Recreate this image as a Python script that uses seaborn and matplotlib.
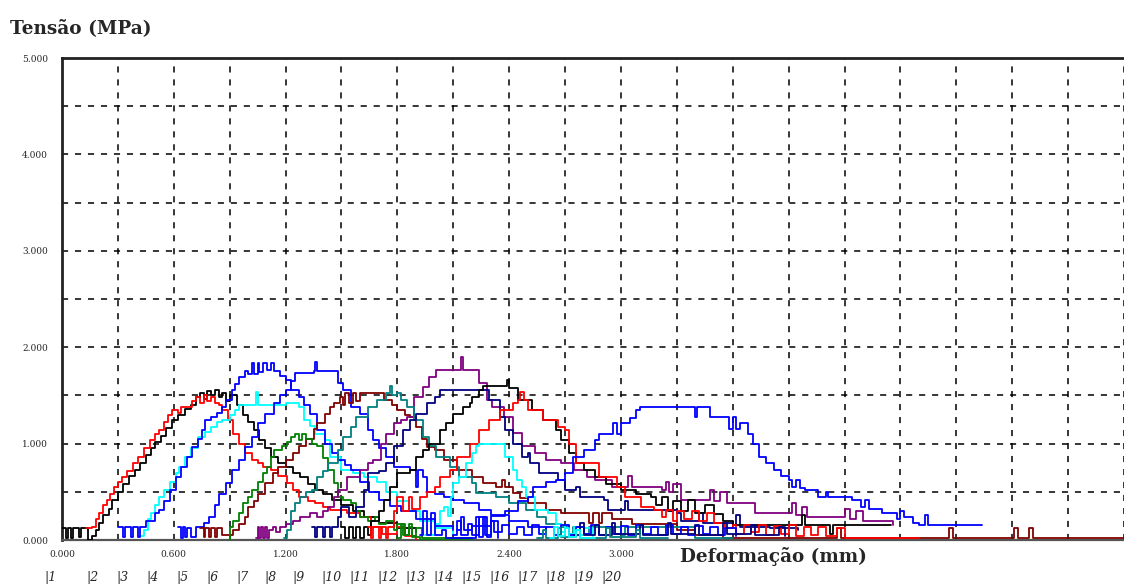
import matplotlib
matplotlib.use("Agg")
import matplotlib.pyplot as plt
import numpy as np
import pandas as pd
import seaborn as sns

# ---- data: (deformation mm, stress MPa) vertices of each specimen curve ----
s01 = [(0.00,0.12),(0.02,0.02),(0.03,0.12),(0.05,0.02),(0.06,0.12),(0.09,0.03),(0.10,0.12),(0.14,0.00),
       (0.16,0.04),(0.18,0.10),(0.20,0.18),(0.22,0.26),(0.25,0.32),(0.27,0.42),(0.30,0.50),(0.33,0.58),
       (0.36,0.66),(0.39,0.73),(0.42,0.80),(0.45,0.88),(0.48,0.95),(0.50,1.02),(0.53,1.08),(0.56,1.16),
       (0.59,1.24),(0.62,1.30),(0.66,1.36),(0.69,1.40),(0.72,1.48),(0.74,1.52),(0.76,1.46),(0.78,1.55),
       (0.80,1.50),(0.82,1.56),(0.84,1.48),(0.86,1.52),(0.88,1.44),(0.90,1.50),(0.94,1.40),(0.97,1.30),
       (1.00,1.22),(1.03,1.14),(1.06,1.04),(1.09,0.95),(1.12,0.86),(1.16,0.80),(1.20,0.76),(1.24,0.70),
       (1.28,0.65),(1.32,0.58),(1.36,0.52),(1.40,0.48),(1.45,0.42),(1.50,0.36),(1.56,0.30),(1.62,0.24),
       (1.70,0.18),(1.80,0.12),(1.90,0.08)]
s02 = [(0.13,0.12),(0.16,0.14),(0.18,0.22),(0.20,0.28),(0.22,0.36),(0.24,0.41),(0.26,0.48),(0.28,0.55),
       (0.30,0.60),(0.32,0.65),(0.35,0.72),(0.38,0.80),(0.41,0.86),(0.44,0.95),(0.47,1.04),(0.50,1.10),
       (0.52,1.14),(0.55,1.22),(0.57,1.30),(0.59,1.35),(0.62,1.32),(0.64,1.38),(0.68,1.38),(0.70,1.44),
       (0.72,1.48),(0.74,1.42),(0.76,1.50),(0.78,1.44),(0.80,1.48),(0.82,1.42),(0.84,1.40),(0.86,1.35),
       (0.89,1.25),(0.92,1.10),(0.95,1.00),(0.98,0.90),(1.02,0.83),(1.05,0.80),(1.08,0.76),(1.12,0.73),
       (1.16,0.66),(1.21,0.59),(1.24,0.52),(1.27,0.45),(1.32,0.40),(1.36,0.38),(1.40,0.34),(1.44,0.31),
       (1.53,0.28),(1.60,0.24),(1.66,0.14),(1.72,0.06),(1.80,0.14),(1.84,0.04),(1.90,0.00)]
s03 = [(0.42,0.04),(0.44,0.10),(0.46,0.22),(0.48,0.28),(0.50,0.36),(0.52,0.45),(0.55,0.52),(0.58,0.60),
       (0.61,0.69),(0.63,0.76),(0.66,0.86),(0.69,0.95),(0.73,1.07),(0.77,1.12),(0.80,1.17),(0.83,1.22),
       (0.86,1.25),(0.90,1.30),(0.93,1.35),(0.95,1.40),(1.02,1.40),(1.04,1.54),(1.05,1.40),(1.12,1.40),
       (1.20,1.42),(1.27,1.38),(1.30,1.25),(1.33,1.18),(1.36,1.10),(1.41,1.04),(1.44,0.86),(1.50,0.73),
       (1.56,0.70),(1.62,0.65),(1.69,0.60),(1.74,0.50),(1.80,0.40),(1.86,0.30),(1.92,0.20),(2.00,0.12),
       (2.10,0.06)]
s04 = [(0.30,0.14),(0.33,0.03),(0.34,0.14),(0.37,0.03),(0.38,0.14),(0.41,0.03),(0.42,0.14),(0.45,0.20),
       (0.50,0.28),(0.52,0.31),(0.55,0.40),(0.58,0.52),(0.61,0.65),(0.64,0.76),(0.67,0.86),(0.70,0.96),
       (0.73,1.05),(0.75,1.14),(0.77,1.25),(0.80,1.28),(0.83,1.32),(0.86,1.38),(0.88,1.45),(0.91,1.56),
       (0.93,1.62),(0.95,1.69),(0.98,1.75),(1.00,1.72),(1.02,1.84),(1.03,1.72),(1.05,1.84),(1.06,1.74),
       (1.08,1.84),(1.10,1.76),(1.12,1.84),(1.14,1.75),(1.17,1.70),(1.20,1.66),(1.23,1.56),(1.27,1.48),
       (1.30,1.40),(1.33,1.31),(1.37,1.14),(1.41,1.00),(1.45,0.90),(1.48,0.83),(1.52,0.78),(1.55,0.73),
       (1.60,0.60),(1.65,0.50),(1.70,0.42),(1.76,0.35),(1.82,0.30),(1.90,0.22),(2.00,0.15),(2.10,0.10)]
s05 = [(0.62,0.14),(0.64,0.02),(0.65,0.14),(0.66,0.03),(0.67,0.12),(0.69,0.03),(0.72,0.14),(0.76,0.18),
       (0.79,0.24),(0.82,0.36),(0.84,0.48),(0.88,0.59),(0.91,0.73),(0.95,0.83),(0.98,0.96),(1.02,1.07),
       (1.05,1.21),(1.09,1.31),(1.14,1.42),(1.17,1.50),(1.20,1.56),(1.23,1.65),(1.25,1.73),(1.35,1.75),
       (1.36,1.85),(1.37,1.75),(1.46,1.75),(1.48,1.63),(1.51,1.56),(1.55,1.38),(1.60,1.31),(1.64,1.14),
       (1.67,1.04),(1.70,0.95),(1.74,0.86),(1.78,0.76),(1.87,0.73),(1.90,0.55),(1.91,0.73),(1.94,0.65),
       (1.96,0.50),(2.00,0.48),(2.05,0.45),(2.10,0.42),(2.16,0.38),(2.24,0.31),(2.30,0.26),(2.40,0.20),
       (2.50,0.14),(2.60,0.10)]
s06 = [(0.74,0.12),(0.76,0.03),(0.77,0.12),(0.79,0.03),(0.80,0.12),(0.82,0.03),(0.83,0.12),(0.86,0.05),
       (0.92,0.10),(0.95,0.17),(0.98,0.24),(1.00,0.34),(1.03,0.40),(1.05,0.48),(1.09,0.59),(1.13,0.69),
       (1.16,0.76),(1.20,0.83),(1.24,0.90),(1.27,0.97),(1.31,1.05),(1.35,1.15),(1.37,1.21),(1.41,1.31),
       (1.44,1.38),(1.46,1.42),(1.49,1.48),(1.51,1.40),(1.52,1.52),(1.54,1.42),(1.56,1.52),(1.58,1.44),
       (1.60,1.52),(1.70,1.52),(1.73,1.45),(1.77,1.40),(1.80,1.35),(1.84,1.30),(1.87,1.28),(1.90,1.17),
       (1.93,1.05),(1.96,0.96),(2.00,0.93),(2.05,0.83),(2.12,0.73),(2.20,0.65),(2.26,0.59),(2.33,0.55),
       (2.36,0.62),(2.38,0.55),(2.42,0.49),(2.46,0.44),(2.50,0.38),(2.60,0.31),(2.68,0.28),(2.80,0.28),
       (2.83,0.18),(2.85,0.28),(2.88,0.18),(2.90,0.28),(2.95,0.22),(3.06,0.17),(3.25,0.17),(3.30,0.10),
       (3.40,0.05),(3.55,0.02),(4.15,0.02),(4.16,0.12),(4.18,0.02),(4.75,0.02),(4.76,0.12),(4.78,0.02),
       (5.10,0.02),(5.11,0.12),(5.13,0.02),(5.18,0.02),(5.19,0.12),(5.21,0.02),(5.70,0.02)]
s07 = [(0.89,0.00),(0.90,0.14),(0.92,0.20),(0.95,0.28),(0.97,0.38),(1.00,0.45),(1.02,0.52),(1.05,0.60),
       (1.08,0.70),(1.10,0.76),(1.12,0.86),(1.14,0.93),(1.18,0.97),(1.21,1.02),(1.23,1.07),(1.25,1.10),
       (1.27,1.04),(1.29,1.10),(1.31,1.05),(1.34,1.00),(1.37,0.97),(1.40,0.85),(1.43,0.73),(1.46,0.59),
       (1.48,0.45),(1.51,0.42),(1.55,0.38),(1.58,0.30),(1.60,0.24),(1.64,0.20),(1.68,0.24),(1.70,0.17),
       (1.74,0.20),(1.78,0.10),(1.80,0.17),(1.83,0.05),(1.86,0.14),(1.88,0.03),(1.92,0.00),(2.20,0.00)]
s08 = [(1.04,0.02),(1.05,0.14),(1.06,0.02),(1.07,0.14),(1.08,0.02),(1.09,0.14),(1.10,0.02),(1.11,0.10),
       (1.13,0.14),(1.15,0.08),(1.17,0.14),(1.20,0.17),(1.24,0.20),(1.28,0.24),(1.33,0.28),(1.37,0.24),
       (1.40,0.30),(1.43,0.34),(1.46,0.45),(1.48,0.52),(1.53,0.65),(1.60,0.73),(1.64,0.80),(1.67,0.83),
       (1.71,1.00),(1.74,1.10),(1.78,1.21),(1.82,1.25),(1.85,1.28),(1.89,1.48),(1.94,1.59),(1.97,1.69),
       (2.01,1.76),(2.13,1.76),(2.14,1.90),(2.15,1.76),(2.22,1.76),(2.24,1.63),(2.28,1.45),(2.31,1.38),
       (2.37,1.28),(2.42,1.11),(2.47,0.97),(2.54,0.90),(2.60,0.83),(2.68,0.80),(2.75,0.73),(2.82,0.65),
       (2.86,0.62),(2.91,0.62),(2.95,0.55),(3.03,0.55),(3.04,0.66),(3.06,0.55),(3.22,0.52),(3.24,0.60),
       (3.26,0.50),(3.28,0.58),(3.32,0.41),(3.45,0.41),(3.48,0.52),(3.50,0.40),(3.53,0.50),(3.57,0.38),
       (3.70,0.38),(3.72,0.28),(3.89,0.28),(3.92,0.38),(3.94,0.26),(3.97,0.34),(4.00,0.24),(4.18,0.24),
       (4.20,0.32),(4.23,0.22),(4.26,0.30),(4.30,0.20),(4.46,0.16)]
s09 = [(1.19,0.02),(1.21,0.10),(1.23,0.30),(1.25,0.38),(1.28,0.45),(1.31,0.50),(1.34,0.52),(1.37,0.65),
       (1.40,0.72),(1.43,0.80),(1.48,0.93),(1.51,1.07),(1.55,1.17),(1.58,1.28),(1.64,1.38),(1.69,1.45),
       (1.74,1.52),(1.76,1.60),(1.77,1.50),(1.80,1.52),(1.82,1.45),(1.85,1.38),(1.89,1.24),(1.94,1.07),
       (1.97,0.97),(2.01,0.86),(2.08,0.76),(2.13,0.65),(2.20,0.59),(2.22,0.49),(2.33,0.45),(2.40,0.38),
       (2.49,0.31),(2.55,0.24),(2.60,0.17),(2.68,0.14),(2.72,0.06),(2.74,0.14),(2.80,0.06),(2.83,0.14),
       (2.90,0.14),(3.00,0.05),(3.02,0.14),(3.35,0.14),(3.40,0.02),(3.60,0.02)]
s10 = [(1.34,0.14),(1.36,0.03),(1.37,0.14),(1.40,0.03),(1.41,0.14),(1.44,0.03),(1.45,0.14),(1.48,0.24),
       (1.50,0.34),(1.54,0.24),(1.58,0.34),(1.62,0.52),(1.64,0.69),(1.70,0.72),(1.74,0.80),(1.78,0.97),
       (1.83,1.14),(1.87,1.24),(1.90,1.31),(1.96,1.42),(2.00,1.48),(2.03,1.56),(2.24,1.56),(2.29,1.45),
       (2.35,1.28),(2.38,1.14),(2.42,1.00),(2.47,0.86),(2.50,0.90),(2.51,0.80),(2.53,0.80),(2.56,0.69),
       (2.66,0.62),(2.70,0.52),(2.76,0.55),(2.78,0.45),(2.88,0.45),(2.91,0.41),(2.93,0.31),(3.00,0.31),
       (3.02,0.40),(3.04,0.31),(3.30,0.28),(3.32,0.20),(3.40,0.20),(3.42,0.28),(3.44,0.18),(3.60,0.16),
       (3.62,0.26),(3.64,0.14),(3.80,0.12),(3.95,0.10)]
s11 = [(1.50,0.14),(1.52,0.02),(1.54,0.14),(1.56,0.02),(1.58,0.14),(1.60,0.02),(1.62,0.14),(1.64,0.05),
       (1.66,0.20),(1.70,0.30),(1.73,0.41),(1.76,0.55),(1.80,0.69),(1.87,0.73),(1.90,0.86),(1.94,0.93),
       (1.97,1.00),(2.03,1.14),(2.06,1.21),(2.10,1.31),(2.15,1.38),(2.19,1.42),(2.20,1.48),(2.24,1.56),
       (2.26,1.60),(2.38,1.60),(2.39,1.66),(2.40,1.58),(2.45,1.45),(2.52,1.35),(2.58,1.24),(2.65,1.14),
       (2.68,1.04),(2.72,0.90),(2.76,0.80),(2.80,0.73),(2.86,0.65),(2.92,0.58),(3.00,0.52),(3.08,0.48),
       (3.16,0.45),(3.19,0.36),(3.22,0.45),(3.25,0.30),(3.28,0.40),(3.32,0.30),(3.36,0.42),(3.40,0.28),
       (3.45,0.36),(3.50,0.27),(3.55,0.20),(3.60,0.16),(3.95,0.16),(3.97,0.26),(3.99,0.16),(4.10,0.16),
       (4.12,0.06),(4.14,0.16),(4.45,0.16)]
s12 = [(1.64,0.14),(1.66,0.02),(1.67,0.14),(1.70,0.02),(1.71,0.14),(1.74,0.02),(1.75,0.14),(1.78,0.30),
       (1.80,0.45),(1.83,0.30),(1.86,0.45),(1.88,0.32),(1.92,0.45),(1.96,0.50),(2.00,0.55),(2.03,0.65),
       (2.08,0.73),(2.12,0.86),(2.19,1.00),(2.24,1.14),(2.29,1.24),(2.35,1.35),(2.42,1.42),(2.45,1.45),
       (2.46,1.54),(2.48,1.45),(2.50,1.35),(2.58,1.24),(2.66,1.17),(2.70,1.14),(2.72,1.00),(2.76,0.80),
       (2.84,0.80),(2.88,0.65),(2.98,0.55),(3.02,0.45),(3.11,0.34),(3.18,0.31),(3.22,0.24),(3.24,0.31),
       (3.28,0.20),(3.30,0.30),(3.34,0.22),(3.38,0.30),(3.42,0.20),(3.46,0.28),(3.50,0.18),(3.56,0.12),
       (3.60,0.16),(3.62,0.06),(3.66,0.16),(3.70,0.08),(3.74,0.16),(3.78,0.05),(3.82,0.15),(3.86,0.06),
       (3.90,0.16),(3.94,0.04),(3.98,0.14),(4.02,0.05),(4.06,0.14),(4.10,0.04),(4.16,0.12),(4.20,0.02),
       (4.60,0.02)]
s13 = [(1.95,0.05),(2.00,0.17),(2.03,0.30),(2.05,0.34),(2.07,0.25),(2.09,0.45),(2.10,0.59),(2.13,0.65),
       (2.17,0.80),(2.20,0.90),(2.22,0.97),(2.24,1.00),(2.37,1.00),(2.38,0.86),(2.42,0.73),(2.44,0.62),
       (2.47,0.55),(2.49,0.45),(2.54,0.31),(2.61,0.28),(2.65,0.17),(2.68,0.08),(2.70,0.16),(2.72,0.06),
       (2.75,0.14),(2.78,0.05),(2.80,0.12),(2.85,0.04)]
s14 = [(2.12,0.10),(2.14,0.24),(2.16,0.10),(2.20,0.15),(2.30,0.25),(2.38,0.30),(2.45,0.40),(2.50,0.45),
       (2.53,0.55),(2.60,0.60),(2.65,0.62),(2.70,0.70),(2.74,0.86),(2.80,0.93),(2.86,1.04),(2.88,1.10),
       (2.95,1.10),(2.96,1.21),(2.98,1.10),(3.00,1.21),(3.05,1.27),(3.08,1.35),(3.10,1.38),(3.38,1.38),
       (3.40,1.28),(3.41,1.38),(3.46,1.38),(3.48,1.28),(3.56,1.28),(3.58,1.15),(3.60,1.28),(3.62,1.15),
       (3.64,1.21),(3.68,1.10),(3.71,1.00),(3.74,0.86),(3.78,0.80),(3.82,0.73),(3.86,0.66),(3.90,0.62),
       (3.92,0.55),(3.94,0.62),(3.96,0.54),(3.99,0.52),(4.06,0.45),(4.10,0.50),(4.11,0.45),(4.24,0.42),
       (4.29,0.34),(4.31,0.42),(4.33,0.32),(4.40,0.28),(4.46,0.28),(4.48,0.22),(4.50,0.30),(4.52,0.24),
       (4.57,0.18),(4.60,0.16),(4.63,0.26),(4.65,0.16),(4.94,0.16)]
s15 = [(1.80,0.02),(1.82,0.17),(1.84,0.05),(1.86,0.17),(1.88,0.04),(1.90,0.12),(1.93,0.02),(2.20,0.02)]
s16 = [(2.10,0.05),(2.12,0.20),(2.14,0.05),(2.18,0.17),(2.20,0.05),(2.24,0.24),(2.27,0.05),(2.30,0.20),
       (2.32,0.08),(2.36,0.16),(2.40,0.06),(2.44,0.14),(2.48,0.05),(2.52,0.16),(2.56,0.06),(2.60,0.14),
       (2.64,0.05),(2.68,0.16),(2.72,0.05),(2.76,0.14),(2.80,0.06),(2.84,0.16),(2.88,0.05),(2.92,0.14),
       (2.96,0.06),(3.00,0.15),(3.04,0.05),(3.08,0.16),(3.12,0.06),(3.16,0.14),(3.20,0.05),(3.24,0.16),
       (3.28,0.06),(3.32,0.14),(3.36,0.05),(3.40,0.15),(3.44,0.06),(3.48,0.14),(3.52,0.05),(3.56,0.12),
       (3.62,0.04)]
s17 = [(2.75,0.05),(2.78,0.18),(2.80,0.05),(2.86,0.16),(2.88,0.05),(2.95,0.18),(2.97,0.06),(3.10,0.16),
       (3.12,0.05),(3.25,0.18),(3.27,0.06),(3.40,0.16),(3.42,0.05),(3.55,0.18),(3.57,0.06),(3.70,0.16),
       (3.72,0.05),(3.85,0.14),(3.88,0.04)]
s18 = [(2.55,0.02),(2.58,0.10),(2.60,0.02),(2.66,0.12),(2.68,0.03),(2.76,0.10),(2.78,0.02),(2.92,0.12),
       (2.94,0.03),(3.08,0.10),(3.10,0.02),(3.25,0.02)]
s19 = [(2.62,0.02),(2.64,0.14),(2.66,0.04),(2.70,0.12),(2.72,0.03),(2.76,0.10),(2.78,0.02),(2.86,0.02)]
s20 = [(1.92,0.05),(1.94,0.30),(1.96,0.05),(1.98,0.28),(2.00,0.05),(2.04,0.10),(2.06,0.02),(2.22,0.24),
       (2.24,0.03),(2.26,0.24),(2.28,0.03),(2.30,0.20),(2.34,0.02)]

specimens = [s01, s02, s03, s04, s05, s06, s07, s08, s09, s10,
             s11, s12, s13, s14, s15, s16, s17, s18, s19, s20]
specimen_colors = ["#000000", "#FF0000", "#00FFFF", "#0000FF", "#0000FF",
                   "#800000", "#008000", "#800080", "#008080", "#000080",
                   "#000000", "#FF0000", "#00FFFF", "#0000FF", "#008000",
                   "#0000FF", "#000080", "#008080", "#00FFFF", "#0000FF"]
specimen_ids = [str(i) for i in range(1, 21)]
id_label_x = [44, 86, 116, 146, 176, 206, 236, 264, 292, 321,
              349, 377, 405, 433, 461, 489, 517, 545, 573, 601]

x_tick_values = [0.0, 0.6, 1.2, 1.8, 2.4, 3.0]
y_tick_values = [0, 1, 2, 3, 4, 5]

# ---- long-form table ----
rows = []
for sid, pts in zip(specimen_ids, specimens):
    for x, y in pts:
        rows.append((sid, x, y))
df = pd.DataFrame(rows, columns=["cp", "def_mm", "tensao"])

sns.set_style("white")
plt.rcParams["font.family"] = ["DejaVu Serif", "DejaVu Sans"]

W, H = 1124, 588
fig = plt.figure(figsize=(W / 100, H / 100), dpi=100)
fig.patch.set_facecolor("white")
ax = fig.add_axes([62 / W, 48 / H, (W - 62) / W, 482 / H])

for sid, col in zip(specimen_ids, specimen_colors):
    sns.lineplot(data=df[df["cp"] == sid], x="def_mm", y="tensao",
                 estimator=None, sort=False, color=col, lw=1.3,
                 drawstyle="steps-post", legend=False, ax=ax, zorder=3)

ax.set_xlim(0, (W - 62) / 188.0)
ax.set_ylim(0, 5)

# grid: every 0.3 mm and every 0.5 MPa, dashed black
ax.set_xticks(x_tick_values)
ax.set_xticklabels([f"{v:.3f}" for v in x_tick_values])
ax.set_xticks(np.arange(0.3, 5.7, 0.3), minor=True)
ax.set_yticks(y_tick_values)
ax.set_yticklabels([f"{v:.3f}" for v in y_tick_values])
ax.set_yticks(np.arange(0.5, 5.0, 0.5), minor=True)
ax.grid(True, which="both", color="black", lw=1.1, linestyle=(0, (4, 4.5)), zorder=1)
ax.set_axisbelow(True)
ax.tick_params(which="both", length=0)
ax.tick_params(axis="y", pad=10, labelsize=6.5)
ax.tick_params(axis="x", pad=7, labelsize=6.5)
ax.set_xlabel("")
ax.set_ylabel("")

for side in ["left", "top"]:
    ax.spines[side].set_visible(True)
    ax.spines[side].set_linewidth(2.0)
    ax.spines[side].set_color("#222222")
ax.spines["bottom"].set_linewidth(1.6)
ax.spines["bottom"].set_color("#555555")
ax.spines["right"].set_visible(False)

fig.text(10 / W, 1 - 28 / H, "Tensão (MPa)", fontsize=13.3, fontweight="bold",
         ha="left", va="center")
fig.text(680 / W, 1 - 557 / H, "Deformação (mm)", fontsize=13.2, fontweight="bold",
         ha="left", va="center")

for sid, px in zip(specimen_ids, id_label_x):
    fig.text(px / W, 1 - 577 / H, "|" + sid, fontsize=9, fontstyle="italic",
             ha="left", va="center")

fig.savefig("out.png", dpi=100, facecolor="white")
